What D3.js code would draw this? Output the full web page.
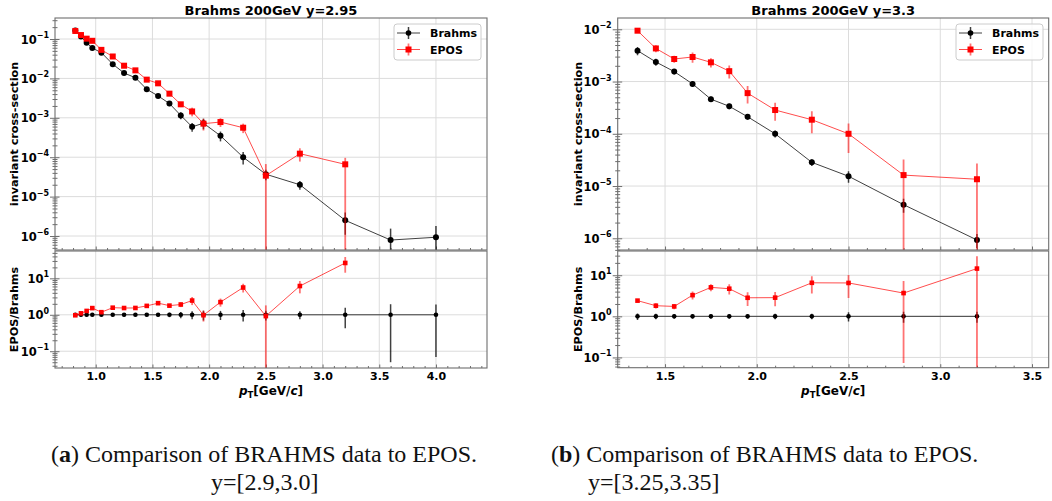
<!DOCTYPE html>
<html><head><meta charset="utf-8">
<script src="https://cdn.jsdelivr.net/npm/d3@7"></script>
<style>
body{margin:0;background:#fff}
text{font-family:"DejaVu Sans",sans-serif}
</style>
</head><body>
<svg id="chart" width="1052" height="501"></svg>
<script>
// ---------- Data: panel (a) y=2.95 ----------
const titleA = "Brahms 200GeV y=2.95";
const ptA = [0.82,0.87,0.92,0.97,1.05,1.15,1.25,1.35,1.45,1.55,1.65,1.75,1.85,1.95,2.1,2.3,2.5,2.8,3.2,3.6,4.0];
const brahmsA = [0.165,0.115,0.08,0.059,0.045,0.023,0.0137,0.0104,0.0053,0.0036,0.0023,0.00115,0.00059,0.00073,0.00035,1.0e-4,3.7e-5,2.0e-5,2.5e-6,7.9e-7,9.3e-7];
const brahmsRelErrA = [0.1,0.1,0.1,0.1,0.1,0.1,0.12,0.1,0.1,0.12,0.14,0.2,0.25,0.3,0.28,0.35,0.3,0.25,0.57,0.95,0.93];
const eposPtA = [0.82,0.87,0.92,0.97,1.05,1.15,1.25,1.35,1.45,1.55,1.65,1.75,1.85,1.95,2.1,2.3,2.5,2.8,3.2];
const eposA = [0.16,0.126,0.102,0.09,0.053,0.036,0.021,0.016,0.0093,0.0075,0.0041,0.0022,0.00145,0.00071,0.00078,0.00056,3.4e-5,1.23e-4,6.6e-5];
const eposRelErrUpA = [0.06,0.06,0.07,0.07,0.08,0.08,0.08,0.08,0.08,0.08,0.1,0.15,0.25,0.33,0.25,0.27,0.97,0.37,0.46];
const eposRelErrLoA = [0.06,0.06,0.07,0.07,0.08,0.08,0.08,0.08,0.08,0.08,0.1,0.15,0.25,0.33,0.25,0.27,1.0,0.37,1.0];
const xTicksA = [1.0,1.5,2.0,2.5,3.0,3.5,4.0];
const captionA = ["a", " Comparison of BRAHMS data to EPOS.", "y=[2.9,3.0]"];

// ---------- Data: panel (b) y=3.3 ----------
const titleB = "Brahms 200GeV y=3.3";
const ptB = [1.35,1.45,1.55,1.65,1.75,1.85,1.95,2.1,2.3,2.5,2.8,3.2];
const brahmsB = [0.0039,0.00237,0.00155,0.0009,0.00046,0.000336,0.000212,1.0e-4,2.84e-5,1.54e-5,4.4e-6,9.3e-7];
const brahmsRelErrB = [0.18,0.15,0.12,0.12,0.12,0.12,0.12,0.15,0.15,0.25,0.3,0.3];
const eposPtB = [1.35,1.45,1.55,1.65,1.75,1.85,1.95,2.1,2.3,2.5,2.8,3.2];
const eposB = [0.0094,0.0043,0.0027,0.00295,0.00233,0.00158,0.0006,0.000285,0.000186,1.0e-4,1.62e-5,1.35e-5];
const eposRelErrUpB = [0.06,0.15,0.15,0.22,0.2,0.28,0.37,0.38,0.45,0.57,0.98,1.0];
const eposRelErrLoB = [0.06,0.15,0.15,0.22,0.2,0.28,0.37,0.38,0.45,0.57,1.0,1.0];
const xTicksB = [1.5,2.0,2.5,3.0,3.5];
const captionB = ["b", " Comparison of BRAHMS data to EPOS.", "y=[3.25,3.35]"];

const legendLabels = ["Brahms", "EPOS"];
const yLabelUpper = "invariant cross-section";
const yLabelLower = "EPOS/Brahms";

// ---------- Drawing ----------
const svg = d3.select("#chart");
svg.append("rect").attr("width",1052).attr("height",501).attr("fill","#fff");

const SPINE = "#6e6e6e", GRID = "#dcdcdc";
const RED = "#ff0000", REDLINE = "rgba(255,0,0,0.7)", REDERR = "rgba(255,0,0,0.55)";
const BLK = "#000", BLKLINE = "rgba(0,0,0,0.75)", BLKERR = "rgba(0,0,0,0.75)";
let clipId = 0;

function logTicks(dom){
  const lo = Math.floor(Math.log10(dom[0])), hi = Math.ceil(Math.log10(dom[1]));
  const maj=[], min=[];
  for(let k=lo;k<=hi;k++){
    const v = Math.pow(10,k);
    if(v>=dom[0]*0.999 && v<=dom[1]*1.001) maj.push(v);
    for(let m=2;m<=9;m++){const u=m*v; if(u>=dom[0] && u<=dom[1]) min.push(u);}
  }
  return {maj,min};
}

function drawPanel(P){
  const g = svg.append("g");
  const x = d3.scaleLinear().domain(P.xDom).range([P.left,P.right]);
  const yU = d3.scaleLog().domain(P.upDom).range([P.mid,P.top]);
  const yL = d3.scaleLog().domain(P.lowDom).range([P.bottom,P.lowTop]);

  const xMinor = d3.range(Math.ceil(P.xDom[0]*10), Math.floor(P.xDom[1]*10)+1).map(d=>d/10)
      .filter(v=>!P.xTicks.some(t=>Math.abs(t-v)<1e-6));

  function axesBox(y, top, bottom, isLower){
    const id = "clip"+(clipId++);
    svg.append("clipPath").attr("id",id).append("rect")
      .attr("x",P.left).attr("y",top).attr("width",P.right-P.left).attr("height",bottom-top);
    const lt = logTicks(y.domain());
    // grid
    const gg = g.append("g");
    gg.selectAll("line.gx").data(P.xTicks).join("line")
      .attr("x1",d=>x(d)).attr("x2",d=>x(d)).attr("y1",top).attr("y2",bottom)
      .attr("stroke",GRID).attr("stroke-width",1);
    gg.selectAll("line.gy").data(lt.maj).join("line")
      .attr("x1",P.left).attr("x2",P.right).attr("y1",d=>y(d)).attr("y2",d=>y(d))
      .attr("stroke",GRID).attr("stroke-width",1);
    // y axis (inout ticks)
    const ay = g.append("g").attr("transform",`translate(${P.left},0)`)
      .call(d3.axisLeft(y).tickValues(lt.maj).tickFormat("").tickSize(5));
    ay.select(".domain").remove();
    ay.selectAll(".tick line").attr("x1",4.5).attr("stroke",SPINE);
    ay.selectAll(".tick").each(function(d){
      const e = Math.round(Math.log10(d));
      const t = d3.select(this).append("text").attr("x",-6).attr("y",4)
        .attr("text-anchor","end").attr("fill","#000").attr("font-weight","bold")
        .attr("font-size",11.5).style("font-family","DejaVu Sans");
      t.append("tspan").text("10");
      t.append("tspan").attr("dy",-5.5).attr("font-size",8).text(e<0?"\u2212"+(-e):String(e));
    });
    const ayMin = g.append("g").attr("transform",`translate(${P.left},0)`)
      .call(d3.axisLeft(y).tickValues(lt.min).tickFormat("").tickSize(2.5));
    ayMin.select(".domain").remove();
    ayMin.selectAll(".tick line").attr("x1",2.5).attr("stroke",SPINE);
    // x axis (inward ticks)
    const ax = g.append("g").attr("transform",`translate(0,${bottom})`)
      .call(d3.axisBottom(x).tickValues(P.xTicks).tickSize(-3.5)
        .tickFormat(isLower? d3.format(".1f") : ""));
    ax.select(".domain").remove();
    ax.selectAll(".tick line").attr("stroke",SPINE);
    ax.selectAll(".tick text").attr("y",12).attr("dy",null).attr("fill","#000")
      .attr("font-weight","bold").attr("font-size",11).style("font-family","DejaVu Sans");
    const axMin = g.append("g").attr("transform",`translate(0,${bottom})`)
      .call(d3.axisBottom(x).tickValues(xMinor).tickSize(-2).tickFormat(""));
    axMin.select(".domain").remove();
    axMin.selectAll(".tick line").attr("stroke",SPINE);
    return id;
  }

  function series(gc, y, xs, ys, lo, up, color, lineCol, errCol, errW, marker, msize){
    const lg = gc.append("g");
    const [dmin] = y.domain();
    // error bars
    lg.selectAll("line.err").data(xs).join("line")
      .attr("x1",(d)=>x(d)).attr("x2",(d)=>x(d))
      .attr("y1",(d,i)=>y(ys[i]*(1+up[i])))
      .attr("y2",(d,i)=>{const v=ys[i]*(1-lo[i]); return v>0 ? y(Math.max(v,dmin*1e-3)) : y(dmin*1e-3);})
      .attr("stroke",errCol).attr("stroke-width",errW);
    // line
    const line = d3.line().x((d,i)=>x(xs[i])).y((d,i)=>y(ys[i]));
    lg.append("path").datum(xs).attr("d",line).attr("fill","none")
      .attr("stroke",lineCol).attr("stroke-width",1);
    // markers
    if(marker==="circle"){
      lg.selectAll("circle").data(xs).join("circle")
        .attr("cx",d=>x(d)).attr("cy",(d,i)=>y(ys[i])).attr("r",msize).attr("fill",color);
    } else {
      lg.selectAll("rect.m").data(xs).join("rect")
        .attr("x",d=>x(d)-msize/2).attr("y",(d,i)=>y(ys[i])-msize/2)
        .attr("width",msize).attr("height",msize).attr("fill",color);
    }
  }

  // ---- upper axes
  const cu = axesBox(yU, P.top, P.mid, false);
  const gu = g.append("g").attr("clip-path",`url(#${cu})`);
  series(gu, yU, P.pt, P.brahms, P.brahmsErr, P.brahmsErr, BLK, BLKLINE, BLKERR, 1.5, "circle", 3);
  series(gu, yU, P.eposPt, P.epos, P.eposErrLo, P.eposErrUp, RED, REDLINE, REDERR, 1.8, "square", 6);

  // ---- lower axes (ratios)
  const cl = axesBox(yL, P.lowTop, P.bottom, true);
  const gl = g.append("g").attr("clip-path",`url(#${cl})`);
  const ones = P.pt.map(()=>1);
  series(gl, yL, P.pt, ones, P.brahmsErr, P.brahmsErr, BLK, BLKLINE, BLKERR, 1.5, "circle", 2.3);
  const ratio = P.eposPt.map((p,i)=>P.epos[i]/P.brahms[P.pt.indexOf(p)]);
  series(gl, yL, P.eposPt, ratio, P.eposErrUp, P.eposErrUp, RED, REDLINE, REDERR, 1.8, "square", 4.6);

  // spines
  [[P.top,P.mid],[P.lowTop,P.bottom]].forEach(([t,b])=>{
    g.append("rect").attr("x",P.left).attr("y",t).attr("width",P.right-P.left).attr("height",b-t)
      .attr("fill","none").attr("stroke",SPINE).attr("stroke-width",1.1);
  });

  // title
  const cx = (P.left+P.right)/2;
  g.append("text").attr("x",cx).attr("y",15).attr("text-anchor","middle")
    .attr("font-weight","bold").attr("font-size",13).text(P.title);
  // y labels
  g.append("text").attr("transform",`translate(${P.ylabX},${(P.top+P.mid)/2}) rotate(-90)`)
    .attr("text-anchor","middle").attr("font-weight","bold").attr("font-size",11.2).text(yLabelUpper);
  g.append("text").attr("transform",`translate(${P.ylabX},${(P.lowTop+P.bottom)/2}) rotate(-90)`)
    .attr("text-anchor","middle").attr("font-weight","bold").attr("font-size",11.2).text(yLabelLower);
  // x label
  const xl = g.append("text").attr("x",cx).attr("y",395).attr("text-anchor","middle")
    .attr("font-weight","bold").attr("font-size",12);
  xl.append("tspan").attr("font-style","italic").text("p");
  xl.append("tspan").attr("font-size",8.5).attr("dy",2.5).text("T");
  xl.append("tspan").attr("dy",-2.5).text("[GeV/");
  xl.append("tspan").attr("font-style","italic").text("c");
  xl.append("tspan").text("]");

  // legend
  const L = P.legend;
  g.append("rect").attr("x",L.x).attr("y",L.y).attr("width",L.w).attr("height",L.h).attr("rx",3)
    .attr("fill","#fff").attr("fill-opacity",0.8).attr("stroke","#cccccc");
  legendLabels.forEach((lab,i)=>{
    const yy = L.y + 9 + i*16.5;
    const red = i===1;
    const lx1 = L.x+3, lx2 = L.x+26, mx = (lx1+lx2)/2;
    g.append("line").attr("x1",mx).attr("x2",mx).attr("y1",yy-6).attr("y2",yy+6)
      .attr("stroke",red?REDERR:BLKERR).attr("stroke-width",red?1.8:1.5);
    g.append("line").attr("x1",lx1).attr("x2",lx2).attr("y1",yy).attr("y2",yy)
      .attr("stroke",red?REDLINE:BLKLINE).attr("stroke-width",1);
    if(red) g.append("rect").attr("x",mx-3).attr("y",yy-3).attr("width",6).attr("height",6).attr("fill",RED);
    else g.append("circle").attr("cx",mx).attr("cy",yy).attr("r",2.8).attr("fill",BLK);
    g.append("text").attr("x",L.x+36).attr("y",yy+4).attr("font-weight","bold").attr("font-size",11).text(lab);
  });

  // caption
  const c1 = svg.append("text").attr("x",P.cap.x1).attr("y",462)
    .style("font-family","Liberation Serif").attr("font-size",24).attr("fill","#111");
  c1.append("tspan").text("(");
  c1.append("tspan").attr("font-weight","bold").text(P.caption[0]);
  c1.append("tspan").text(")"+P.caption[1]);
  svg.append("text").attr("x",P.cap.x2).attr("y",490)
    .style("font-family","Liberation Serif").attr("font-size",24).attr("fill","#111").text(P.caption[2]);
}

drawPanel({
  left:55, right:487, top:18, mid:250, lowTop:251, bottom:368,
  xDom:[0.641,4.45], upDom:[Math.pow(10,-6.355),Math.pow(10,-0.467)], lowDom:[Math.pow(10,-1.46),Math.pow(10,1.75)],
  xTicks:xTicksA, title:titleA, ylabX:18,
  pt:ptA, brahms:brahmsA, brahmsErr:brahmsRelErrA,
  eposPt:eposPtA, epos:eposA, eposErrUp:eposRelErrUpA, eposErrLo:eposRelErrLoA,
  legend:{x:394,y:24,w:87,h:36}, caption:captionA, cap:{x1:51,x2:211}
});
drawPanel({
  left:617.7, right:1048.7, top:18, mid:250, lowTop:251, bottom:367.7,
  xDom:[1.242,3.591], upDom:[Math.pow(10,-6.224),Math.pow(10,-1.784)], lowDom:[Math.pow(10,-1.25),Math.pow(10,1.59)],
  xTicks:xTicksB, title:titleB, ylabX:581.5,
  pt:ptB, brahms:brahmsB, brahmsErr:brahmsRelErrB,
  eposPt:eposPtB, epos:eposB, eposErrUp:eposRelErrUpB, eposErrLo:eposRelErrLoB,
  legend:{x:956,y:24,w:87,h:36}, caption:captionB, cap:{x1:551,x2:588}
});
</script>
</body></html>
